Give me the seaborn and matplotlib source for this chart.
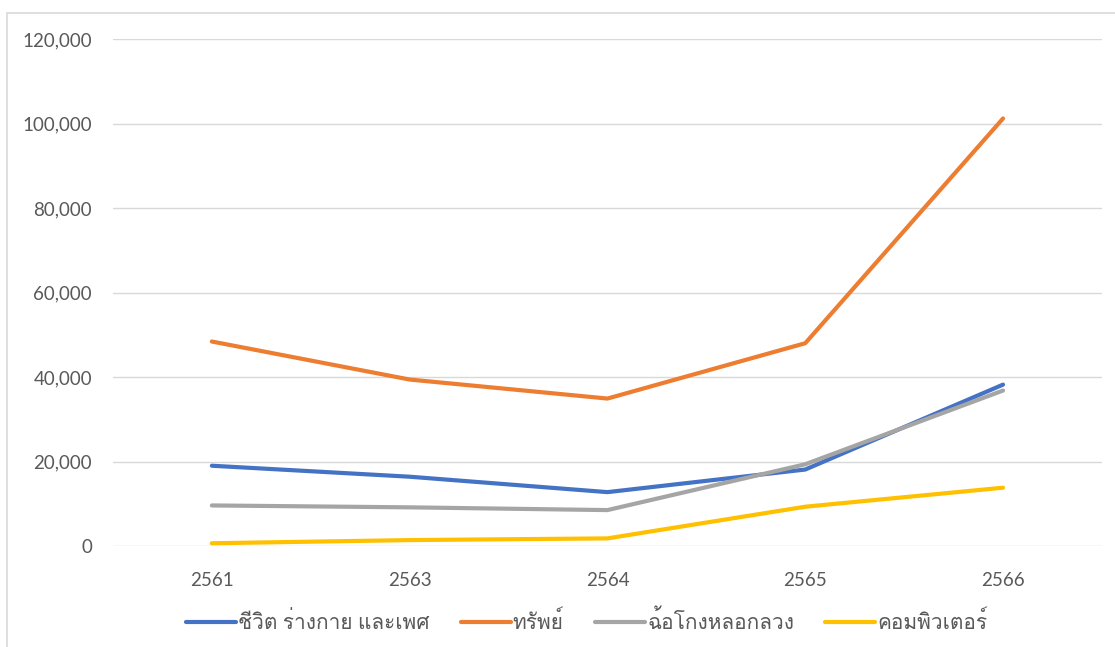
import matplotlib
matplotlib.use('Agg')
import matplotlib.pyplot as plt
from matplotlib import font_manager
from matplotlib.ft2font import FT2Font
from matplotlib.patches import Rectangle
from matplotlib.ticker import FuncFormatter
import seaborn as sns
import pandas as pd

# ข้อมูลจากกราฟ (ปี พ.ศ.)
years = ['2561', '2563', '2564', '2565', '2566']
labels = ['ชีวิต ร่างกาย และเพศ', 'ทรัพย์', 'ฉ้อโกงหลอกลวง', 'คอมพิวเตอร์']
life_body_sex = [19000, 16400, 12750, 18100, 38200]
property_crime = [48400, 39400, 34900, 48000, 101200]
fraud = [9600, 9150, 8500, 19350, 36800]
computer = [650, 1400, 1800, 9300, 13800]
colors = ['#4472C4', '#ED7D31', '#A5A5A5', '#FFC000']

series = [life_body_sex, property_crime, fraud, computer]
df = pd.DataFrame({
    'year': years * len(labels),
    'type': [lab for lab in labels for _ in years],
    'count': [v for s in series for v in s],
})

sns.set_style('white')

# หาฟอนต์ที่มีอักษรไทย
thai_fonts = []
for f in font_manager.fontManager.ttflist:
    try:
        if FT2Font(f.fname).get_char_index(0x0E01):
            thai_fonts.append(f.name)
    except Exception:
        pass
thai_fonts = list(dict.fromkeys(thai_fonts))
plt.rcParams['font.family'] = ['Lato'] + thai_fonts + ['DejaVu Sans']

fig = plt.figure(figsize=(11.15, 6.47), dpi=100)
ax = fig.add_axes([0.1013, 0.1561, 0.8870, 0.7836])

sns.lineplot(data=df, x='year', y='count', hue='type', palette=colors,
             sort=False, linewidth=3, ax=ax, legend=True)
for line in ax.get_lines():
    line.set_solid_capstyle('round')
    line.set_solid_joinstyle('round')

ax.set_ylim(0, 120000)
ax.set_yticks(range(0, 120001, 20000))
ax.yaxis.set_major_formatter(FuncFormatter(lambda v, p: f'{int(v):,}'))
ax.set_xlim(-0.5, len(years) - 0.5)
ax.grid(axis='y', color='#D9D9D9', linewidth=1)
ax.set_axisbelow(True)
sns.despine(ax=ax, left=True, bottom=True)
ax.set_xlabel('')
ax.set_ylabel('')
ax.tick_params(axis='y', length=0, pad=15, labelsize=13.5, labelcolor='#595959')
ax.tick_params(axis='x', length=0, pad=18.5, labelsize=13.5, labelcolor='#595959')

handles, _ = ax.get_legend_handles_labels()
leg = ax.legend(handles, labels, loc='center', bbox_to_anchor=(0.479, -0.148),
                ncol=4, frameon=False, fontsize=15, handlelength=2.4,
                handletextpad=0.1, columnspacing=1.5, labelcolor='#595959')
for h in leg.get_lines():
    h.set_linewidth(3)
    h.set_solid_capstyle('round')

# กรอบของแผนภูมิ
fig.add_artist(Rectangle((7 / 1115, -0.1), 1.2, 0.98 + 0.1, transform=fig.transFigure,
                         fill=False, edgecolor='#D9D9D9', linewidth=1.2))

fig.savefig('out.png', dpi=100)
